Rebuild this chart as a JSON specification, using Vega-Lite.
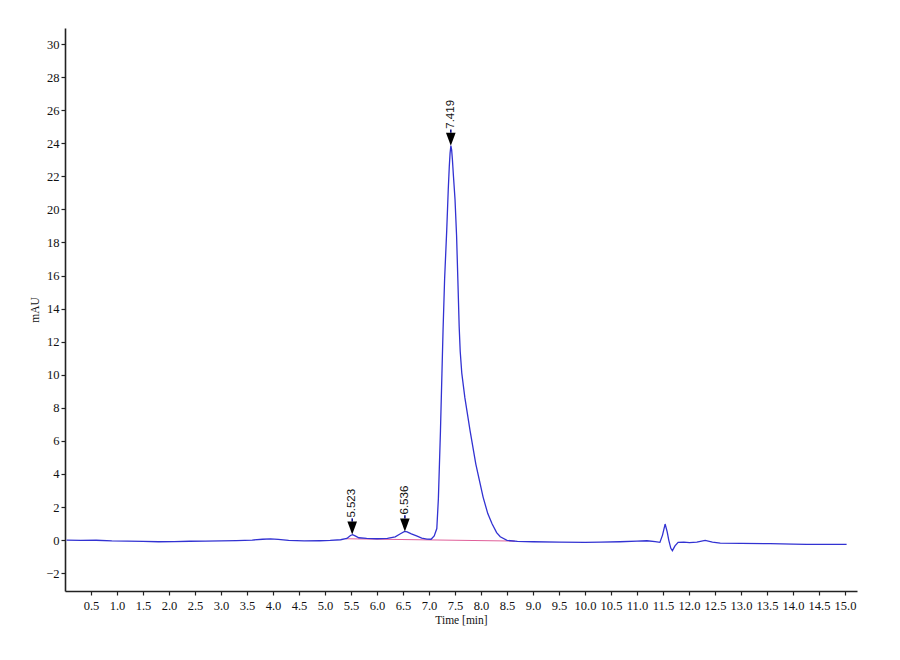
{
  "$schema": "https://vega.github.io/schema/vega-lite/v6.json",
  "autosize": {"type": "none"},
  "width": 792,
  "height": 563,
  "padding": {"left": 65, "top": 28, "right": 43, "bottom": 69},
  "background": "white",
  "config": {
    "view": {"stroke": null},
    "axis": {
      "grid": false,
      "domainColor": "#222222",
      "domainWidth": 1.6,
      "tickColor": "#222222",
      "tickSize": 4,
      "tickWidth": 1.2,
      "labelFont": "Liberation Serif",
      "labelFontSize": 12.5,
      "labelColor": "#111111",
      "titleFont": "Liberation Serif",
      "titleFontSize": 11.5,
      "titleFontWeight": "normal",
      "titleColor": "#111111"
    }
  },
  "datasets": {
    "trace": [
      {"t": 0.03, "v": 0.0}, {"t": 0.3, "v": -0.02}, {"t": 0.6, "v": -0.01}, {"t": 0.9, "v": -0.05},
      {"t": 1.2, "v": -0.06}, {"t": 1.5, "v": -0.08}, {"t": 1.8, "v": -0.1}, {"t": 2.1, "v": -0.09},
      {"t": 2.4, "v": -0.07}, {"t": 2.7, "v": -0.06}, {"t": 3.0, "v": -0.05}, {"t": 3.3, "v": -0.03},
      {"t": 3.6, "v": 0.0}, {"t": 3.8, "v": 0.05}, {"t": 3.95, "v": 0.07}, {"t": 4.1, "v": 0.04},
      {"t": 4.3, "v": -0.02}, {"t": 4.6, "v": -0.05}, {"t": 4.9, "v": -0.04}, {"t": 5.1, "v": -0.02},
      {"t": 5.3, "v": 0.02}, {"t": 5.42, "v": 0.1}, {"t": 5.49, "v": 0.28}, {"t": 5.53, "v": 0.33},
      {"t": 5.58, "v": 0.25}, {"t": 5.65, "v": 0.14}, {"t": 5.8, "v": 0.1}, {"t": 6.0, "v": 0.08},
      {"t": 6.2, "v": 0.1}, {"t": 6.35, "v": 0.2}, {"t": 6.45, "v": 0.38}, {"t": 6.53, "v": 0.52},
      {"t": 6.58, "v": 0.5}, {"t": 6.66, "v": 0.38}, {"t": 6.76, "v": 0.25}, {"t": 6.86, "v": 0.12},
      {"t": 6.96, "v": 0.06}, {"t": 7.04, "v": 0.05}, {"t": 7.1, "v": 0.25}, {"t": 7.15, "v": 0.7},
      {"t": 7.18, "v": 2.5}, {"t": 7.22, "v": 6.6}, {"t": 7.27, "v": 12.7}, {"t": 7.3, "v": 15.8},
      {"t": 7.34, "v": 18.7}, {"t": 7.37, "v": 21.2}, {"t": 7.39, "v": 22.6}, {"t": 7.405, "v": 23.4},
      {"t": 7.42, "v": 23.85}, {"t": 7.435, "v": 23.6}, {"t": 7.45, "v": 23.0}, {"t": 7.47, "v": 22.0},
      {"t": 7.5, "v": 20.6}, {"t": 7.53, "v": 18.4}, {"t": 7.555, "v": 15.7}, {"t": 7.58, "v": 12.9},
      {"t": 7.6, "v": 11.4}, {"t": 7.63, "v": 10.1}, {"t": 7.69, "v": 8.6},
      {"t": 7.79, "v": 6.6}, {"t": 7.9, "v": 4.6}, {"t": 8.04, "v": 2.6}, {"t": 8.13, "v": 1.6}, {"t": 8.21, "v": 1.0},
      {"t": 8.3, "v": 0.45}, {"t": 8.37, "v": 0.2}, {"t": 8.5, "v": -0.02}, {"t": 8.7, "v": -0.08}, {"t": 9.0, "v": -0.1},
      {"t": 9.5, "v": -0.12}, {"t": 10.0, "v": -0.14}, {"t": 10.3, "v": -0.12}, {"t": 10.67, "v": -0.1},
      {"t": 11.0, "v": -0.06}, {"t": 11.19, "v": -0.04}, {"t": 11.35, "v": -0.1}, {"t": 11.44, "v": -0.14},
      {"t": 11.49, "v": 0.3}, {"t": 11.54, "v": 0.97}, {"t": 11.58, "v": 0.5}, {"t": 11.61, "v": 0.0},
      {"t": 11.65, "v": -0.5}, {"t": 11.68, "v": -0.64}, {"t": 11.73, "v": -0.35}, {"t": 11.79, "v": -0.14},
      {"t": 11.9, "v": -0.12}, {"t": 12.01, "v": -0.16}, {"t": 12.15, "v": -0.12}, {"t": 12.31, "v": -0.02},
      {"t": 12.45, "v": -0.12}, {"t": 12.6, "v": -0.18}, {"t": 13.0, "v": -0.2}, {"t": 13.56, "v": -0.22},
      {"t": 14.0, "v": -0.24}, {"t": 14.26, "v": -0.26}, {"t": 14.6, "v": -0.26}, {"t": 15.03, "v": -0.26}
    ],
    "baseline": [
      {"t": 5.4, "v": 0.08}, {"t": 8.65, "v": -0.06}
    ],
    "peaks": [
      {"t": 5.523, "v": 0.33, "label": "5.523"},
      {"t": 6.536, "v": 0.52, "label": "6.536"},
      {"t": 7.419, "v": 23.85, "label": "7.419"}
    ]
  },
  "layer": [
    {
      "data": {"name": "baseline"},
      "mark": {"type": "line", "color": "#e0609a", "strokeWidth": 1.2},
      "encoding": {
        "x": {"field": "t", "type": "quantitative", "scale": {"domain": [0, 15.23], "nice": false, "zero": false},
          "axis": {"values": [0.5,1,1.5,2,2.5,3,3.5,4,4.5,5,5.5,6,6.5,7,7.5,8,8.5,9,9.5,10,10.5,11,11.5,12,12.5,13,13.5,14,14.5,15], "tickCount": 100, "format": ".1f", "title": "Time [min]", "labelPadding": 4, "titlePadding": 3, "labelFlush": false, "labelOverlap": false, "labelBound": false}},
        "y": {"field": "v", "type": "quantitative", "scale": {"domain": [-3.08, 30.97], "nice": false, "zero": false},
          "axis": {"values": [-2,0,2,4,6,8,10,12,14,16,18,20,22,24,26,28,30], "tickCount": 100, "format": "d", "title": "mAU", "labelPadding": 2, "titlePadding": 5, "labelFlush": false, "labelOverlap": false, "labelBound": false}}
      }
    },
    {
      "data": {"name": "trace"},
      "mark": {"type": "line", "color": "#3232d2", "strokeWidth": 1.3},
      "encoding": {
        "x": {"field": "t", "type": "quantitative"},
        "y": {"field": "v", "type": "quantitative"}
      }
    },
    {
      "data": {"name": "peaks"},
      "mark": {"type": "point", "shape": "M0,-1L0,-1.25", "size": 676, "filled": false, "stroke": "#10108a", "strokeWidth": 1.6, "opacity": 1},
      "encoding": {
        "x": {"field": "t", "type": "quantitative"},
        "y": {"field": "v", "type": "quantitative"}
      }
    },
    {
      "data": {"name": "peaks"},
      "mark": {"type": "point", "shape": "M-0.37,-1L0.37,-1L0,0Z", "size": 676, "filled": true, "color": "#000000", "opacity": 1},
      "encoding": {
        "x": {"field": "t", "type": "quantitative"},
        "y": {"field": "v", "type": "quantitative"}
      }
    },
    {
      "data": {"name": "peaks"},
      "mark": {"type": "text", "angle": 270, "align": "left", "baseline": "middle", "dx": 17, "font": "Liberation Sans", "fontSize": 11.5, "color": "#111111"},
      "encoding": {
        "x": {"field": "t", "type": "quantitative"},
        "y": {"field": "v", "type": "quantitative"},
        "text": {"field": "label"}
      }
    }
  ]
}
